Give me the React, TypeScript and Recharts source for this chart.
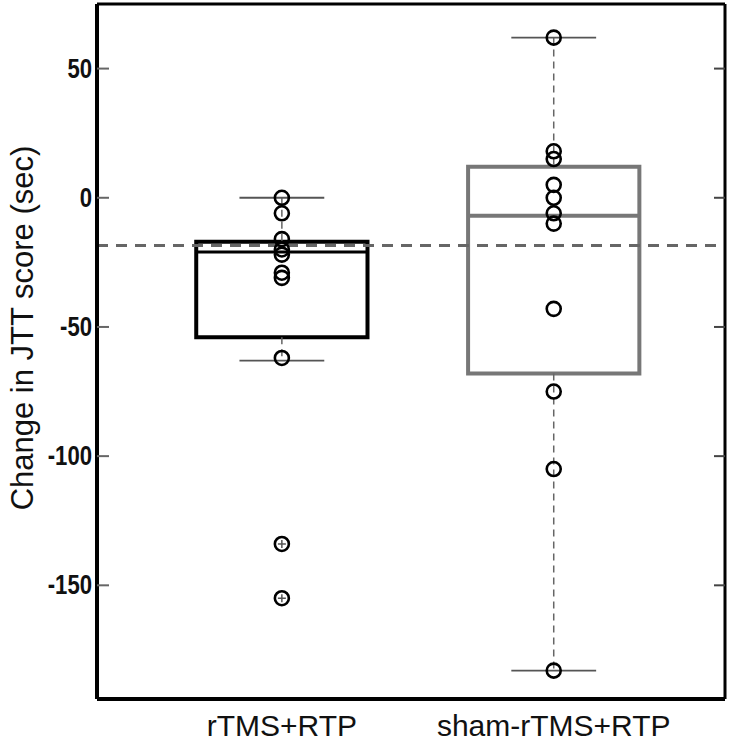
import {
  ComposedChart,
  Scatter,
  XAxis,
  YAxis,
  ReferenceArea,
  ReferenceLine,
} from "recharts";

const categories = ["rTMS+RTP", "sham-rTMS+RTP"];
const rtmsValues = [0, -6, -16, -20, -22, -29, -31, -62, -134, -155];
const shamValues = [62, 18, 15, 5, 0, -6, -10, -43, -75, -105, -183];
const rtmsOutliers = [-134, -155];

// box stats per category, as drawn
const q1 = [-54, -68];
const medians = [-21, -7];
const q3 = [-17, 12];
const whiskerLow = [-63, -183];
const whiskerHigh = [0, 62];

const referenceValue = -18.5;
const yTicks = [50, 0, -50, -100, -150];

const boxColors = ["#000000", "#777777"];
const BOX_HALF = 0.315;
const CAP_HALF = 0.156;

const LeftTick = ({ x, y, payload }: any) => (
  <g>
    <line x1={x + 8} x2={x + 20} y1={y} y2={y} stroke="#666" strokeWidth={2} />
    <text
      transform={`translate(${x + 3} ${y}) scale(0.82 1)`}
      x={0}
      y={0}
      dy={9}
      textAnchor="end"
      fontFamily="'Liberation Sans', Arial, sans-serif"
      fontWeight={700}
      fontSize={27}
      fill="#111"
    >
      {payload.value}
    </text>
  </g>
);

const RightTick = ({ x, y }: any) => (
  <line x1={x - 11} x2={x} y1={y} y2={y} stroke="#444" strokeWidth={2} />
);

const BottomTick = ({ x, y, payload }: any) => (
  <text
    x={x}
    y={y + 37}
    textAnchor="middle"
    fontFamily="'Liberation Sans', Arial, sans-serif"
    fontSize={30}
    fill="#111"
  >
    {categories[payload.value - 1]}
  </text>
);

const Ring = ({ cx, cy }: any) => (
  <circle cx={cx} cy={cy} r={7} fill="none" stroke="#000" strokeWidth={2.6} />
);

const Plus = ({ cx, cy }: any) => (
  <g stroke="#555" strokeWidth={1.5}>
    <line x1={cx - 4} x2={cx + 4} y1={cy} y2={cy} />
    <line x1={cx} x2={cx} y1={cy - 4} y2={cy + 4} />
  </g>
);

export default function App() {
  const rtmsPoints = rtmsValues.map((v) => ({ x: 1, y: v }));
  const shamPoints = shamValues.map((v) => ({ x: 2, y: v }));
  const outlierPoints = rtmsOutliers.map((v) => ({ x: 1, y: v }));

  return (
    <div style={{ position: "absolute", left: 0, top: 0, background: "#fff" }}>
      <ComposedChart
        width={735}
        height={750}
        margin={{ top: 3, right: 9, bottom: 0, left: 0 }}
      >
        <XAxis
          dataKey="x"
          type="number"
          domain={[0.32, 2.63]}
          allowDataOverflow
          ticks={[1, 2]}
          tick={<BottomTick />}
          tickLine={false}
          tickSize={0}
          tickMargin={0}
          height={51}
          axisLine={{ stroke: "#000", strokeWidth: 4 }}
        />
        <XAxis
          xAxisId="top"
          orientation="top"
          type="number"
          domain={[0.32, 2.63]}
          allowDataOverflow
          tick={false}
          tickLine={false}
          height={1}
          axisLine={{ stroke: "#000", strokeWidth: 3 }}
        />
        <YAxis
          dataKey="y"
          type="number"
          domain={[-194, 75]}
          allowDataOverflow
          ticks={yTicks}
          tick={<LeftTick />}
          tickLine={false}
          tickSize={0}
          tickMargin={8}
          width={97}
          axisLine={{ stroke: "#000", strokeWidth: 4 }}
        />
        <YAxis
          yAxisId="right"
          orientation="right"
          type="number"
          domain={[-194, 75]}
          allowDataOverflow
          ticks={yTicks}
          tick={<RightTick />}
          tickLine={false}
          tickSize={0}
          tickMargin={0}
          width={1}
          axisLine={{ stroke: "#000", strokeWidth: 3 }}
        />

        {categories.map((c, i) => (
          <ReferenceLine
            key={`wh-${c}`}
            segment={[
              { x: i + 1, y: whiskerHigh[i] },
              { x: i + 1, y: q3[i] },
            ]}
            stroke="#666"
            strokeWidth={1.5}
            strokeDasharray="7 5"
          />
        ))}
        {categories.map((c, i) => (
          <ReferenceLine
            key={`wl-${c}`}
            segment={[
              { x: i + 1, y: q1[i] },
              { x: i + 1, y: whiskerLow[i] },
            ]}
            stroke="#666"
            strokeWidth={1.5}
            strokeDasharray="7 5"
          />
        ))}
        {categories.map((c, i) => (
          <ReferenceLine
            key={`ch-${c}`}
            segment={[
              { x: i + 1 - CAP_HALF, y: whiskerHigh[i] },
              { x: i + 1 + CAP_HALF, y: whiskerHigh[i] },
            ]}
            stroke="#555"
            strokeWidth={1.8}
          />
        ))}
        {categories.map((c, i) => (
          <ReferenceLine
            key={`cl-${c}`}
            segment={[
              { x: i + 1 - CAP_HALF, y: whiskerLow[i] },
              { x: i + 1 + CAP_HALF, y: whiskerLow[i] },
            ]}
            stroke="#555"
            strokeWidth={1.8}
          />
        ))}
        {categories.map((c, i) => (
          <ReferenceArea
            key={`box-${c}`}
            x1={i + 1 - BOX_HALF}
            x2={i + 1 + BOX_HALF}
            y1={q1[i]}
            y2={q3[i]}
            fill="none"
            fillOpacity={0}
            stroke={boxColors[i]}
            strokeWidth={4}
          />
        ))}
        {categories.map((c, i) => (
          <ReferenceLine
            key={`med-${c}`}
            segment={[
              { x: i + 1 - BOX_HALF, y: medians[i] },
              { x: i + 1 + BOX_HALF, y: medians[i] },
            ]}
            stroke={boxColors[i]}
            strokeWidth={i === 0 ? 3 : 4}
          />
        ))}

        <ReferenceLine
          y={referenceValue}
          stroke="#666"
          strokeWidth={3}
          strokeDasharray="11 8"
        />

        <Scatter
          data={outlierPoints}
          shape={<Plus />}
          isAnimationActive={false}
        />
        <Scatter data={rtmsPoints} shape={<Ring />} isAnimationActive={false} />
        <Scatter data={shamPoints} shape={<Ring />} isAnimationActive={false} />
      </ComposedChart>
      <div
        style={{
          position: "absolute",
          left: 23,
          top: 328,
          transform: "translate(-50%, -50%) rotate(-90deg)",
          whiteSpace: "nowrap",
          fontFamily: "'Liberation Sans', Arial, sans-serif",
          fontSize: 31,
          color: "#111",
        }}
      >
        Change in JTT score (sec)
      </div>
    </div>
  );
}
